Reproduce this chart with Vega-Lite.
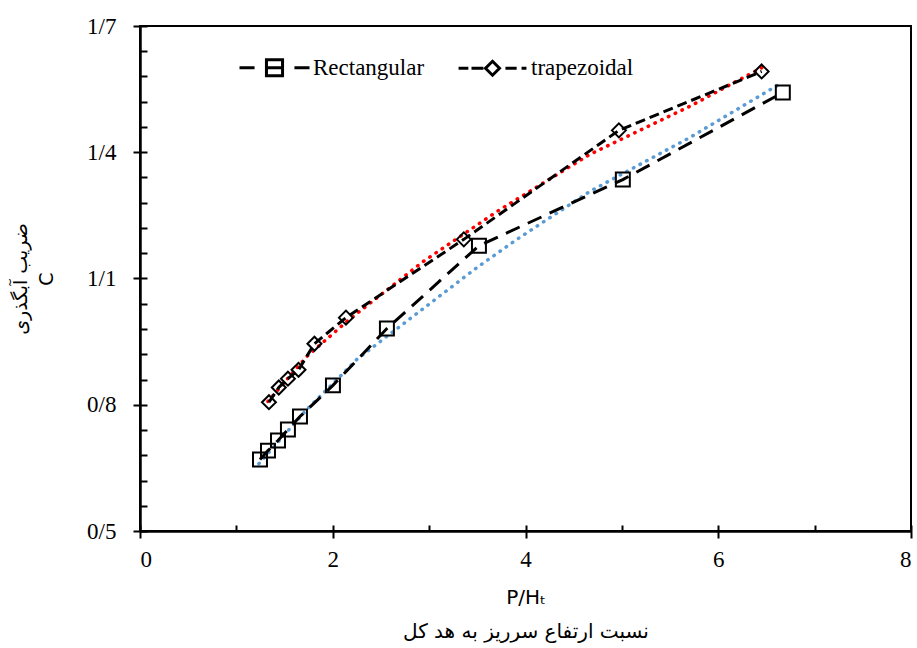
{
  "$schema": "https://vega.github.io/schema/vega-lite/v6.json",
  "width": 771,
  "height": 505,
  "autosize": {"type": "none"},
  "padding": {"left": 140, "top": 26, "right": 6, "bottom": 117},
  "background": "white",
  "config": {
    "view": {"stroke": "black", "strokeWidth": 2},
    "axis": {
      "domainColor": "black",
      "domainWidth": 2.5,
      "tickColor": "black",
      "tickWidth": 2,
      "grid": false,
      "labelFont": "Liberation Serif",
      "labelFontSize": 23,
      "labelColor": "black",
      "titleColor": "black",
      "titleFontWeight": "normal"
    },
    "legend": {
      "labelFont": "Liberation Serif",
      "labelFontSize": 23,
      "labelColor": "black",
      "labelLimit": 300
    }
  },
  "data": {
    "values": [
      {"kind": "data", "series": "Rectangular", "x": 1.245, "y": 0.670},
      {"kind": "data", "series": "Rectangular", "x": 1.328, "y": 0.691},
      {"kind": "data", "series": "Rectangular", "x": 1.432, "y": 0.715},
      {"kind": "data", "series": "Rectangular", "x": 1.535, "y": 0.741},
      {"kind": "data", "series": "Rectangular", "x": 1.660, "y": 0.772},
      {"kind": "data", "series": "Rectangular", "x": 2.002, "y": 0.846},
      {"kind": "data", "series": "Rectangular", "x": 2.562, "y": 0.981},
      {"kind": "data", "series": "Rectangular", "x": 3.517, "y": 1.178},
      {"kind": "data", "series": "Rectangular", "x": 5.010, "y": 1.335},
      {"kind": "data", "series": "Rectangular", "x": 6.670, "y": 1.542},
      {"kind": "data", "series": "trapezoidal", "x": 1.338, "y": 0.806},
      {"kind": "data", "series": "trapezoidal", "x": 1.440, "y": 0.841},
      {"kind": "data", "series": "trapezoidal", "x": 1.535, "y": 0.862},
      {"kind": "data", "series": "trapezoidal", "x": 1.645, "y": 0.883},
      {"kind": "data", "series": "trapezoidal", "x": 1.810, "y": 0.945},
      {"kind": "data", "series": "trapezoidal", "x": 2.137, "y": 1.007},
      {"kind": "data", "series": "trapezoidal", "x": 3.360, "y": 1.193},
      {"kind": "data", "series": "trapezoidal", "x": 4.969, "y": 1.452},
      {"kind": "data", "series": "trapezoidal", "x": 6.450, "y": 1.592},
      {"kind": "trend", "series": "RectTrend", "x": 1.234, "y": 0.660},
      {"kind": "trend", "series": "RectTrend", "x": 1.732, "y": 0.789},
      {"kind": "trend", "series": "RectTrend", "x": 2.075, "y": 0.867},
      {"kind": "trend", "series": "RectTrend", "x": 2.251, "y": 0.908},
      {"kind": "trend", "series": "RectTrend", "x": 3.496, "y": 1.126},
      {"kind": "trend", "series": "RectTrend", "x": 3.911, "y": 1.193},
      {"kind": "trend", "series": "RectTrend", "x": 4.668, "y": 1.307},
      {"kind": "trend", "series": "RectTrend", "x": 5.705, "y": 1.435},
      {"kind": "trend", "series": "RectTrend", "x": 6.629, "y": 1.561},
      {"kind": "trend", "series": "TrapTrend", "x": 1.328, "y": 0.808},
      {"kind": "trend", "series": "TrapTrend", "x": 1.732, "y": 0.915},
      {"kind": "trend", "series": "TrapTrend", "x": 2.147, "y": 0.998},
      {"kind": "trend", "series": "TrapTrend", "x": 2.936, "y": 1.140},
      {"kind": "trend", "series": "TrapTrend", "x": 3.703, "y": 1.259},
      {"kind": "trend", "series": "TrapTrend", "x": 4.668, "y": 1.395},
      {"kind": "trend", "series": "TrapTrend", "x": 5.705, "y": 1.509},
      {"kind": "trend", "series": "TrapTrend", "x": 6.452, "y": 1.601}
    ]
  },
  "resolve": {"axis": {"x": "independent", "y": "independent"}, "scale": {"shape": "independent"}},
  "layer": [
    {
      "transform": [{"filter": "datum.kind === 'trend'"}],
      "mark": {"type": "line", "strokeWidth": 3.5, "strokeCap": "round", "strokeDash": [0.5, 7]},
      "encoding": {
        "x": {
          "field": "x", "type": "quantitative",
          "scale": {"domain": [0, 8], "nice": false, "zero": false},
          "axis": {
            "orient": "bottom",
            "values": [0, 2, 4, 6, 8],
            "tickSize": 7,
            "labelPadding": 10,
            "title": ["P/Hₜ", "نسبت ارتفاع سرریز به هد کل"],
            "titleFont": "DejaVu Sans",
            "titleFontSize": 20,
            "titleLineHeight": 34,
            "titlePadding": 16
          }
        },
        "y": {
          "field": "y", "type": "quantitative",
          "scale": {"domain": [0.5, 1.7], "nice": false, "zero": false},
          "axis": {
            "orient": "left",
            "values": [0.5, 0.8, 1.1, 1.4, 1.7],
            "tickSize": 7,
            "labelPadding": 17,
            "labelExpr": "replace(format(datum.value, '.1f'), '.', '/')",
            "title": ["ضریب آبگذری", "C"],
            "titleFont": "DejaVu Sans",
            "titleFontSize": 19,
            "titleLineHeight": 26,
            "titlePadding": 30
          }
        },
        "color": {
          "field": "series", "type": "nominal",
          "scale": {"domain": ["RectTrend", "TrapTrend"], "range": ["#5B9BD5", "#FF0000"]},
          "legend": null
        }
      }
    },
    {
      "transform": [{"filter": "datum.kind === 'data'"}],
      "mark": {"type": "line", "strokeWidth": 3, "color": "black"},
      "encoding": {
        "x": {
          "field": "x", "type": "quantitative",
          "axis": {
            "orient": "bottom",
            "values": [0, 1, 2, 3, 4, 5, 6, 7, 8],
            "tickSize": -6,
            "labels": false,
            "domain": false,
            "title": null
          }
        },
        "y": {
          "field": "y", "type": "quantitative",
          "axis": {
            "orient": "left",
            "values": [0.5, 0.56, 0.62, 0.68, 0.74, 0.8, 0.86, 0.92, 0.98, 1.04, 1.1, 1.16, 1.22, 1.28, 1.34, 1.4, 1.46, 1.52, 1.58, 1.64, 1.7],
            "tickSize": -7,
            "labels": false,
            "domain": false,
            "title": null
          }
        },
        "strokeDash": {
          "field": "series", "type": "nominal",
          "scale": {"domain": ["Rectangular", "trapezoidal"], "range": [[15, 9], [10, 5]]},
          "legend": null
        }
      }
    },
    {
      "transform": [{"filter": "datum.kind === 'data'"}],
      "mark": {"type": "point", "filled": false, "stroke": "black", "strokeWidth": 2, "size": 195, "opacity": 1},
      "encoding": {
        "x": {"field": "x", "type": "quantitative", "axis": null},
        "y": {"field": "y", "type": "quantitative", "axis": null},
        "shape": {
          "field": "series", "type": "nominal",
          "scale": {"domain": ["Rectangular", "trapezoidal"], "range": ["square", "diamond"]},
          "legend": null
        }
      }
    },
    {
      "transform": [{"filter": "false"}],
      "mark": {"type": "point", "filled": false, "stroke": "black", "strokeWidth": 3},
      "encoding": {
        "x": {"field": "x", "type": "quantitative", "axis": null},
        "y": {"field": "y", "type": "quantitative", "axis": null},
        "shape": {
          "field": "series", "type": "nominal",
          "scale": {
            "domain": ["Rectangular", "trapezoidal"],
            "range": [
              "M-1,0H-0.57M0.57,0H1M-0.23,-0.23H0.23V0.23H-0.23ZM-0.23,0H0.23",
              "M-0.97,0H-0.69M-0.6,0H-0.26M0,-0.2L0.2,0L0,0.2L-0.2,0ZM0.37,0H0.69M0.83,0H0.97"
            ]
          },
          "legend": {
            "orient": "none",
            "legendX": 98,
            "legendY": 5,
            "direction": "horizontal",
            "title": null,
            "symbolSize": 4900,
            "symbolStrokeWidth": 3,
            "symbolStrokeColor": "black",
            "symbolFillColor": "transparent",
            "symbolOpacity": 1,
            "labelFont": "Liberation Serif",
            "labelFontSize": 23,
            "labelColor": "black",
            "labelOffset": 2,
            "columnPadding": 27
          }
        }
      }
    }
  ]
}
